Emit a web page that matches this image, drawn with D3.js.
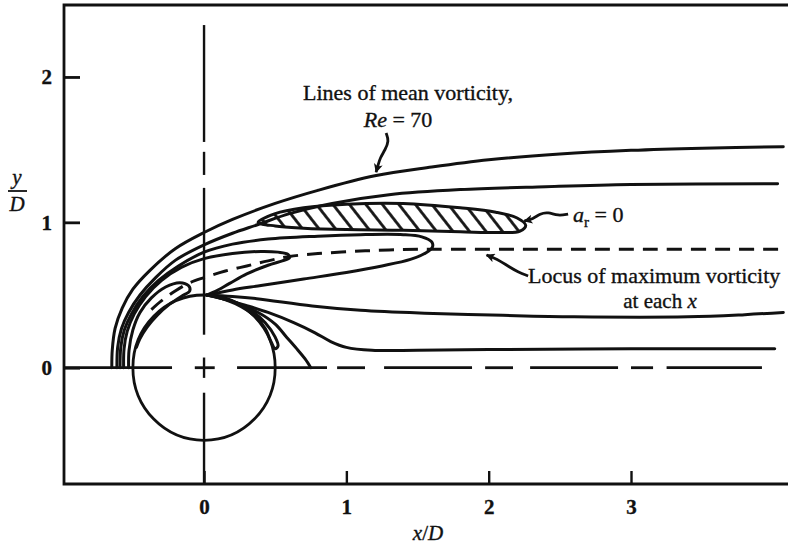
<!DOCTYPE html>
<html><head><meta charset="utf-8">
<script src="https://cdn.jsdelivr.net/npm/d3@7"></script>
<style>
body{margin:0;background:#fff}
svg{display:block}
text{font-family:"Liberation Serif","Times New Roman",serif;fill:#111;stroke:#111;stroke-width:0.35px}
</style>
</head><body><div id="chart"></div>
<script>
// ---------- data (x/D, y/D) ----------
const xTickValues = [0, 1, 2, 3];
const xTickLabels = ["0", "1", "2", "3"];
const yTickValues = [0, 1, 2];
const yTickLabels = ["0", "1", "2"];
const cylinderRadius = 0.5;

// mean-vorticity contour lines (Re = 70)
const vortLine1 = [[-0.648,0],[-0.645,0.12],[-0.625,0.27],[-0.575,0.41],[-0.5,0.54],[-0.38,0.67],[-0.2,0.82],[0,0.93],[0.2,1.02],[0.5,1.13],[0.8,1.22],[1.2,1.32],[1.6,1.38],[2.0,1.43],[2.5,1.47],[3.0,1.495],[3.5,1.51],[4.07,1.52]];
const vortLine2 = [[-0.612,0],[-0.607,0.14],[-0.58,0.27],[-0.53,0.38],[-0.45,0.5],[-0.34,0.62],[-0.2,0.74],[0,0.845],[0.2,0.925],[0.38,0.985],[0.6,1.06],[0.9,1.13],[1.3,1.19],[1.8,1.225],[2.4,1.245],[3.0,1.26],[4.03,1.265]];
const vortTongue = [[-0.59,0],[-0.585,0.14],[-0.56,0.26],[-0.51,0.37],[-0.43,0.49],[-0.32,0.6],[-0.18,0.7],[0,0.795],[0.2,0.85],[0.45,0.885],[0.8,0.905],[1.1,0.915],[1.4,0.915],[1.53,0.9],[1.6,0.865],[1.605,0.83],[1.56,0.79],[1.45,0.745],[1.25,0.7],[1.0,0.655],[0.7,0.61],[0.4,0.565],[0.2,0.535],[0.05,0.505]];
const vortLobe = [[-0.565,0],[-0.562,0.13],[-0.54,0.25],[-0.49,0.37],[-0.41,0.49],[-0.3,0.6],[-0.16,0.69],[0,0.75],[0.2,0.785],[0.4,0.8],[0.52,0.795],[0.59,0.78],[0.6,0.755],[0.55,0.735],[0.45,0.705],[0.3,0.645],[0.18,0.58],[0.08,0.525],[0.03,0.505]];
const vortSmallLobe = [[-0.53,0],[-0.527,0.12],[-0.5,0.26],[-0.45,0.38],[-0.37,0.48],[-0.27,0.555],[-0.17,0.585],[-0.11,0.565],[-0.1,0.53],[-0.16,0.49],[-0.25,0.43],[-0.33,0.36],[-0.4,0.28],[-0.45,0.2],[-0.475,0.14]];
const wakeUpper = [[0.02,0.5],[0.2,0.49],[0.37,0.475],[0.76,0.425],[1.1,0.395],[1.55,0.375],[2.1,0.36],[2.6,0.35],[3.4,0.35],[3.8,0.365],[4.07,0.38]];
const wakeLower = [[0.02,0.5],[0.15,0.47],[0.29,0.43],[0.45,0.38],[0.63,0.31],[0.78,0.24],[0.89,0.18],[1.0,0.14],[1.18,0.12],[1.5,0.12],[2.0,0.125],[3.0,0.13],[4.01,0.13]];
const wakeToAxis = [[0.02,0.5],[0.2,0.455],[0.38,0.38],[0.5,0.3],[0.58,0.21],[0.66,0.12],[0.71,0.06],[0.75,0]];
const wakeLoop = [[0.02,0.5],[0.18,0.465],[0.32,0.4],[0.43,0.31],[0.5,0.21],[0.52,0.15],[0.5,0.13],[0.47,0.18],[0.43,0.27],[0.35,0.36],[0.22,0.44],[0.05,0.5]];
// locus of maximum vorticity (dashed)
const locusMaxVort = [[-0.37,0.4],[-0.3,0.46],[-0.2,0.53],[-0.1,0.585],[0,0.62],[0.15,0.665],[0.3,0.7],[0.45,0.735],[0.6,0.765],[0.8,0.785],[1.05,0.8],[1.3,0.81],[1.6,0.815],[2.2,0.815],[3.0,0.815],[4.07,0.815]];
// a_r = 0 region (hatched)
const arZero = [[0.38,1.0],[0.5,1.06],[0.7,1.1],[1.0,1.125],[1.4,1.13],[1.8,1.1],[2.05,1.07],[2.2,1.03],[2.26,0.98],[2.22,0.94],[2.1,0.93],[1.8,0.935],[1.4,0.945],[1.0,0.95],[0.7,0.96],[0.5,0.975]];
// reference centre-lines (broken by hand in the original)
const vertRefSegments = [[2.357,1.553],[1.485,1.326],[1.237,0.227],[0.07,-0.07],[-0.172,-0.8]];
const horizRefSegments = [[-0.984,-0.225],[-0.065,0.075],[0.232,0.864],[0.935,1.131],[1.265,1.883],[1.975,2.171],[2.291,2.909],[3.0,3.155],[3.25,3.92]];
// annotation arrows
const arrowRe = [[1.279,1.615],[1.3,1.56],[1.272,1.498],[1.237,1.443],[1.223,1.394],[1.209,1.346]];
const arrowAr = [[2.558,1.057],[2.487,1.044],[2.417,1.071],[2.361,1.06],[2.312,1.023],[2.25,1.009]];
const arrowLocus = [[2.277,0.631],[2.206,0.658],[2.136,0.699],[2.08,0.734],[2.038,0.755],[1.985,0.775]];

// ---------- drawing ----------
const W = 788, H = 546;
const svg = d3.select("#chart").append("svg").attr("width", W).attr("height", H);
svg.append("rect").attr("width", W).attr("height", H).attr("fill", "#fff");

const x = d3.scaleLinear().domain([-0.984, 4.075]).range([64, 784]);
const y = d3.scaleLinear().domain([-0.8, 2.495]).range([484, 5]);

const defs = svg.append("defs");
defs.append("pattern").attr("id", "hatch").attr("patternUnits", "userSpaceOnUse")
  .attr("width", 13).attr("height", 13).attr("patternTransform", "rotate(-38)")
  .append("line").attr("x1", 6.5).attr("y1", -1).attr("x2", 6.5).attr("y2", 14)
  .attr("stroke", "#111").attr("stroke-width", 2.8);
defs.append("marker").attr("id", "ah").attr("viewBox", "0 0 10 10")
  .attr("refX", 9).attr("refY", 5).attr("markerWidth", 11).attr("markerHeight", 9)
  .attr("markerUnits", "userSpaceOnUse").attr("orient", "auto")
  .append("path").attr("d", "M0,0 L10,5 L0,10 L2.5,5 z").attr("fill", "#111");

// frame
const [x0] = x.range(), [yb, yt] = y.range();
svg.append("path").attr("d", `M${W},${yt} H${x0} V${yb} H${W}`)
  .attr("fill", "none").attr("stroke", "#111").attr("stroke-width", 2.8);

// axes
const gx = svg.append("g").attr("transform", `translate(0,${yb})`)
  .call(d3.axisBottom(x).tickValues(xTickValues).tickFormat((d, i) => xTickLabels[i])
    .tickSizeInner(-13).tickSizeOuter(0).tickPadding(15));
gx.select(".domain").remove();
gx.attr("font-size", null).attr("font-family", null);
gx.selectAll("line").attr("stroke", "#111").attr("stroke-width", 2.4);
gx.selectAll("text").attr("font-size", 21).attr("font-weight", "bold").attr("fill", "#111");

const gy = svg.append("g").attr("transform", `translate(${x0},0)`)
  .call(d3.axisLeft(y).tickValues(yTickValues).tickFormat((d, i) => yTickLabels[i])
    .tickSizeInner(-16).tickSizeOuter(0).tickPadding(12));
gy.select(".domain").remove();
gy.attr("font-size", null).attr("font-family", null);
gy.selectAll("line").attr("stroke", "#111").attr("stroke-width", 2.8);
gy.selectAll("text").attr("font-size", 21).attr("font-weight", "bold").attr("fill", "#111");

// reference lines
const ref = svg.append("g").attr("stroke", "#111").attr("stroke-width", 2.4);
ref.selectAll(".v").data(vertRefSegments).join("line")
  .attr("x1", x(0)).attr("x2", x(0)).attr("y1", d => y(d[0])).attr("y2", d => y(d[1]));
ref.selectAll(".h").data(horizRefSegments).join("line")
  .attr("y1", y(0)).attr("y2", y(0)).attr("x1", d => x(d[0])).attr("x2", d => x(d[1]))
  .attr("stroke-width", 2.8);

// cylinder
svg.append("ellipse").attr("cx", x(0)).attr("cy", y(0))
  .attr("rx", x(cylinderRadius) - x(0)).attr("ry", y(0) - y(cylinderRadius))
  .attr("fill", "none").attr("stroke", "#111").attr("stroke-width", 2.8);

const line = d3.line().x(d => x(d[0])).y(d => y(d[1])).curve(d3.curveCatmullRom.alpha(0.5));
const lineClosed = d3.line().x(d => x(d[0])).y(d => y(d[1])).curve(d3.curveCatmullRomClosed.alpha(0.5));

// hatched a_r = 0 region
svg.append("path").attr("d", lineClosed(arZero))
  .attr("fill", "url(#hatch)").attr("stroke", "#111").attr("stroke-width", 3);

const curves = [vortLine1, vortLine2, vortTongue, vortLobe, vortSmallLobe, wakeUpper, wakeLower, wakeToAxis, wakeLoop];
svg.append("g").selectAll("path").data(curves).join("path")
  .attr("d", line).attr("fill", "none").attr("stroke", "#111")
  .attr("stroke-width", 3).attr("stroke-linejoin", "round").attr("stroke-linecap", "round");

svg.append("path").attr("d", line(locusMaxVort)).attr("fill", "none")
  .attr("stroke", "#111").attr("stroke-width", 3).attr("stroke-dasharray", "15,9");

// arrows
const arrowLine = d3.line().x(d => x(d[0])).y(d => y(d[1])).curve(d3.curveBasis);
svg.append("g").selectAll("path").data([arrowRe, arrowAr, arrowLocus]).join("path")
  .attr("d", arrowLine).attr("fill", "none").attr("stroke", "#111")
  .attr("stroke-width", 2.8).attr("marker-end", "url(#ah)");

// texts
svg.append("text").attr("x", 408).attr("y", 100).attr("text-anchor", "middle")
  .attr("font-size", 22).text("Lines of mean vorticity,");
const t2 = svg.append("text").attr("x", 398).attr("y", 127).attr("text-anchor", "middle").attr("font-size", 22);
t2.append("tspan").attr("font-style", "italic").text("Re");
t2.append("tspan").text(" = 70");

const t3 = svg.append("text").attr("x", 573).attr("y", 222).attr("font-size", 22);
t3.append("tspan").attr("font-style", "italic").text("a");
t3.append("tspan").attr("font-size", 15).attr("dy", 5).text("r");
t3.append("tspan").attr("dy", -5).text(" = 0");

svg.append("text").attr("x", 528).attr("y", 283).attr("font-size", 22).text("Locus of maximum vorticity");
const t5 = svg.append("text").attr("x", 660).attr("y", 308).attr("text-anchor", "middle").attr("font-size", 21);
t5.append("tspan").text("at each ");
t5.append("tspan").attr("font-style", "italic").text("x");

const t6 = svg.append("text").attr("x", 428).attr("y", 540).attr("text-anchor", "middle").attr("font-size", 21);
t6.append("tspan").attr("font-style", "italic").text("x");
t6.append("tspan").text("/");
t6.append("tspan").attr("font-style", "italic").text("D");

// y/D as a stacked fraction
const yl = svg.append("g");
yl.append("text").attr("x", 17).attr("y", 184).attr("text-anchor", "middle")
  .attr("font-size", 21).attr("font-style", "italic").text("y");
yl.append("line").attr("x1", 8).attr("x2", 27).attr("y1", 191).attr("y2", 191)
  .attr("stroke", "#111").attr("stroke-width", 1.8);
yl.append("text").attr("x", 17).attr("y", 211).attr("text-anchor", "middle")
  .attr("font-size", 21).attr("font-style", "italic").text("D");
</script>
</body></html>
